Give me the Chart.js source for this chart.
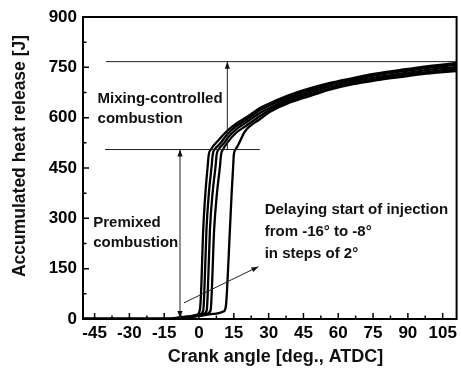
<!DOCTYPE html>
<html>
<head>
<meta charset="utf-8">
<script src="https://cdn.jsdelivr.net/npm/chart.js@4.4.1/dist/chart.umd.min.js"></script>
<style>
  html, body { margin: 0; padding: 0; background: #fff; }
  #wrap { width: 461px; height: 372px; position: relative; }
</style>
</head>
<body>
<div id="wrap"><canvas id="heat-chart"></canvas></div>
<script>
// accumulated heat release curves, one per start of injection (SOI)
const soiLabels = ['SOI -16°', 'SOI -14°', 'SOI -12°', 'SOI -10°', 'SOI -8°'];

const angleSoi16 = [-50, -14, -10, -5, -1, 0.3, 0.8, 1.8, 2.8, 3.7, 4.2, 5.2, 8, 12.5, 16, 19.7, 26.3, 31.2, 38, 46.6, 56, 66.4, 76, 86.6, 98, 111];
const heatSoi16  = [0, 0, 3, 7, 12, 25, 66, 265, 380, 453, 490, 506, 530, 563, 582, 598, 629, 645, 665, 685, 703, 718, 731, 742, 753, 763];

const angleSoi14 = [-50, -13, -9, -4, 0, 1.8, 2.2, 3.2, 4.3, 5.4, 5.9, 6.9, 9, 12.5, 16, 19.7, 26.3, 31.2, 38, 46.6, 56, 66.4, 76, 86.6, 98, 111];
const heatSoi14  = [0, 0, 3, 8, 13, 25, 66, 265, 380, 453, 490, 507, 522, 553, 574, 591, 622, 639, 659, 680, 698, 713, 726, 737, 748, 758];

const angleSoi12 = [-50, -12, -8, -3, 1.5, 3.3, 3.7, 4.7, 5.9, 7.1, 7.6, 8.6, 10.5, 12.5, 16, 19.7, 26.3, 31.2, 38, 46.6, 56, 66.4, 76, 86.6, 98, 111];
const heatSoi12  = [0, 0, 3, 8, 14, 25, 66, 265, 380, 453, 490, 507, 522, 541, 565, 583, 614, 632, 653, 674, 692, 708, 720, 731, 742, 751];

const angleSoi10 = [-50, -11, -7, -2, 3, 5, 5.4, 6.5, 7.8, 9.0, 9.5, 10.4, 12.5, 16, 19.7, 26.3, 31.2, 38, 46.6, 56, 66.4, 76, 86.6, 98, 111];
const heatSoi10  = [0, 0, 3, 8, 14, 26, 66, 265, 380, 453, 490, 506, 528, 555, 573, 605, 626, 647, 668, 686, 703, 715, 726, 736, 745];

const angleSoi8 = [-50, -10, -6, 0, 6, 10.5, 11.5, 11.9, 13.3, 14.1, 14.7, 15.0, 15.8, 17, 19.7, 26.3, 31.2, 38, 46.6, 56, 66.4, 76, 86.6, 98, 111];
const heatSoi8  = [0, 0, 3, 9, 15, 22, 35, 66, 265, 380, 453, 490, 506, 520, 558, 596, 620, 642, 662, 683, 700, 711, 721, 731, 739];

const xTicks = [-45, -30, -15, 0, 15, 30, 45, 60, 75, 90, 105];
const xMinorTicks = [-37.5, -22.5, -7.5, 7.5, 22.5, 37.5, 52.5, 67.5, 82.5, 97.5];
const yTicks = [0, 150, 300, 450, 600, 750, 900];
const yMinorTicks = [75, 225, 375, 525, 675, 825];

// guide lines and arrows, in data units [crank angle, heat release]
const mixingLevel = 767;
const premixedLevel = 505;
const mixingLine = [[-40.1, mixingLevel], [111, mixingLevel]];
const premixedLine = [[-40.5, premixedLevel], [26.2, premixedLevel]];
const mixingArrow = [[12.2, premixedLevel], [12.2, mixingLevel]];
const premixedArrow = [[-8.2, 0], [-8.2, premixedLevel]];
const delayArrow = [[-6.5, 48], [25.6, 156]];

const notes = [
    { text: 'Mixing-controlled', at: [-43.7, 644] },
    { text: 'combustion', at: [-43.7, 584] },
    { text: 'Premixed', at: [-45.6, 275] },
    { text: 'combustion', at: [-45.6, 214] },
    { text: 'Delaying start of injection', at: [28.3, 313] },
    { text: 'from -16° to -8°', at: [28.3, 248] },
    { text: 'in steps of 2°', at: [28.3, 181] }
];

const FONT = '"Liberation Sans", Arial, sans-serif';

const curves = [
    [angleSoi16, heatSoi16],
    [angleSoi14, heatSoi14],
    [angleSoi12, heatSoi12],
    [angleSoi10, heatSoi10],
    [angleSoi8, heatSoi8]
];

const datasets = curves.map((c, i) => ({
    label: soiLabels[i],
    data: c[0].map((a, k) => ({ x: a, y: c[1][k] })),
    borderColor: '#000',
    borderWidth: 2.3,
    pointRadius: 0,
    fill: false,
    cubicInterpolationMode: 'monotone'
}));

function arrowHead(ctx, x1, y1, x2, y2) {
    const ang = Math.atan2(y2 - y1, x2 - x1);
    const len = 7, half = 2.6;
    ctx.beginPath();
    ctx.moveTo(x2, y2);
    ctx.lineTo(x2 - len * Math.cos(ang) + half * Math.sin(ang), y2 - len * Math.sin(ang) - half * Math.cos(ang));
    ctx.lineTo(x2 - len * Math.cos(ang) - half * Math.sin(ang), y2 - len * Math.sin(ang) + half * Math.cos(ang));
    ctx.closePath();
    ctx.fill();
}

const decorations = {
    id: 'decorations',
    afterDatasetsDraw(chart) {
        const { ctx, chartArea: a, scales: { x, y } } = chart;
        const px = p => [x.getPixelForValue(p[0]), y.getPixelForValue(p[1])];
        ctx.save();

        // guide lines
        ctx.strokeStyle = '#222';
        ctx.fillStyle = '#111';
        ctx.lineWidth = 1;
        [mixingLine, premixedLine, mixingArrow, premixedArrow, delayArrow].forEach(seg => {
            const p1 = px(seg[0]), p2 = px(seg[1]);
            ctx.beginPath();
            ctx.moveTo(p1[0], p1[1]);
            ctx.lineTo(p2[0], p2[1]);
            ctx.stroke();
        });
        [mixingArrow, premixedArrow, delayArrow].forEach(seg => {
            const p1 = px(seg[0]), p2 = px(seg[1]);
            arrowHead(ctx, p1[0], p1[1], p2[0], p2[1]);
        });
        const pb = px(premixedArrow[0]), pt = px(premixedArrow[1]);
        arrowHead(ctx, pt[0], pt[1], pb[0], pb[1] - 1);

        // frame
        ctx.strokeStyle = '#000';
        ctx.lineWidth = 2;
        ctx.strokeRect(a.left, a.top, a.right - a.left, a.bottom - a.top);

        // inward ticks
        ctx.lineWidth = 1.5;
        ctx.beginPath();
        xTicks.forEach(v => { const p = x.getPixelForValue(v); ctx.moveTo(p, a.bottom); ctx.lineTo(p, a.bottom - 6); });
        xMinorTicks.forEach(v => { const p = x.getPixelForValue(v); ctx.moveTo(p, a.bottom); ctx.lineTo(p, a.bottom - 3.5); });
        yTicks.forEach(v => { const p = y.getPixelForValue(v); ctx.moveTo(a.left, p); ctx.lineTo(a.left + 6, p); });
        yMinorTicks.forEach(v => { const p = y.getPixelForValue(v); ctx.moveTo(a.left, p); ctx.lineTo(a.left + 3.5, p); });
        ctx.stroke();

        // annotations
        ctx.fillStyle = '#111';
        ctx.font = 'bold 15px ' + FONT;
        ctx.textAlign = 'left';
        ctx.textBaseline = 'alphabetic';
        notes.forEach(n => {
            const p = px(n.at);
            ctx.fillText(n.text, p[0], p[1]);
        });

        // axis titles
        ctx.font = 'bold 18px ' + FONT;
        ctx.textAlign = 'center';
        ctx.fillText('Crank angle [deg., ATDC]', 275.5, 362);
        ctx.save();
        ctx.translate(25, 156);
        ctx.rotate(-Math.PI / 2);
        ctx.font = 'bold 17.5px ' + FONT;
        ctx.fillText('Accumulated heat release [J]', 0, 0);
        ctx.restore();

        ctx.restore();
    }
};

new Chart(document.getElementById('heat-chart'), {
    type: 'line',
    data: { datasets: datasets },
    options: {
        responsive: true,
        maintainAspectRatio: false,
        animation: false,
        layout: { padding: { top: 17, right: 4, left: 0, bottom: 0 } },
        plugins: { legend: { display: false }, tooltip: { enabled: false } },
        scales: {
            x: {
                type: 'linear',
                min: -50,
                max: 111,
                grid: { display: false, drawTicks: false },
                border: { display: false },
                afterBuildTicks: scale => { scale.ticks = xTicks.map(v => ({ value: v })); },
                afterFit: scale => { scale.height = 53; },
                ticks: {
                    color: '#000',
                    padding: 4,
                    maxRotation: 0,
                    autoSkip: false,
                    font: { family: FONT, size: 17, weight: 'bold' },
                    callback: v => v
                }
            },
            y: {
                min: 0,
                max: 900,
                grid: { display: false, drawTicks: false },
                border: { display: false },
                afterBuildTicks: scale => { scale.ticks = yTicks.map(v => ({ value: v })); },
                afterFit: scale => { scale.width = 83; },
                ticks: {
                    color: '#000',
                    padding: 6,
                    font: { family: FONT, size: 17, weight: 'bold' },
                    callback: v => v
                }
            }
        }
    },
    plugins: [decorations]
});
</script>
</body>
</html>
